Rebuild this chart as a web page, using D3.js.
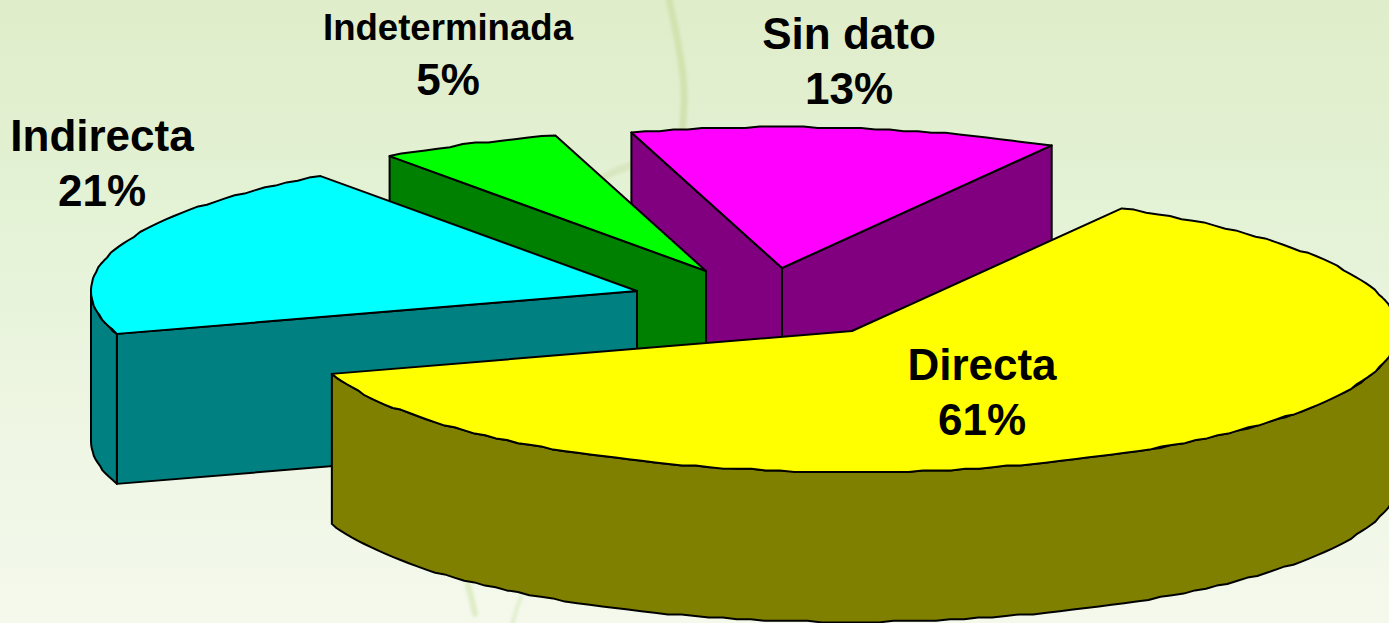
<!DOCTYPE html>
<html><head><meta charset="utf-8">
<style>html,body{margin:0;padding:0;overflow:hidden;background:#eef5e2}svg{display:block}</style>
<script src="https://cdn.jsdelivr.net/npm/d3@7/dist/d3.min.js"></script></head>
<body><svg id="c" width="1389" height="623"></svg>
<script>
// Data
const categories = ["Directa","Indirecta","Indeterminada","Sin dato"];
// Percentages as printed on the chart's labels
const printedPercents = [61,21,5,13];
// Slice sizes as measured from the drawn wedge angles in the picture (the source's
// 3D wedges do not sit exactly on the printed percentages)
const wedgeShares = [61.86,20.08,5.39,12.67];
const topColors = ["#ffff00","#00ffff","#00ff00","#ff00ff"];
const wallColors = ["#808000","#008080","#008000","#800080"];

// Layout (exploded slice hubs, and label anchors), separate from the data
const hubs = {Directa:[852,331],Indirecta:[637,291],Indeterminada:[706,271],"Sin dato":[782,268]};
const depth = 150, rx = 546, ry = 141;
const labels = {Directa:[982,380,44],Indirecta:[102,151,44],Indeterminada:[448,40,36.6],"Sin dato":[849,49,44]};
const drawOrder = ["Sin dato","Indeterminada","Indirecta","Directa"];

const W=1389,H=623, svg=d3.select("#c"), defs=svg.append("defs");
const g=defs.append("linearGradient").attr("id","bg").attr("x1",0).attr("y1",0).attr("x2",0).attr("y2",1);
[[0,"#dfedca"],[.35,"#e4f2d6"],[.7,"#eff6e4"],[1,"#f4f9ec"]].forEach(d=>g.append("stop").attr("offset",d[0]).attr("stop-color",d[1]));
defs.append("filter").attr("id","soft").append("feGaussianBlur").attr("stdDeviation",1.8);
svg.append("rect").attr("width",W).attr("height",H).attr("fill","url(#bg)");

// faint decorative stems of the slide background
const deco=svg.append("g").attr("fill","none").attr("stroke","#d2e3b0").attr("filter","url(#soft)").attr("stroke-linecap","round");
const stem=d3.line().curve(d3.curveBasis);
deco.append("path").attr("stroke-width",7).attr("d",stem([[668,-5],[678,40],[686,90],[682,135]]));
deco.append("path").attr("stroke-width",7).attr("stroke","#d9e6c0").attr("d",stem([[596,182],[612,172],[634,164]]));
deco.append("path").attr("stroke-width",6).attr("stroke","#dfecc6").attr("d",stem([[468,585],[472,600],[475,614]]));
deco.append("path").attr("stroke-width",4).attr("stroke","#e3eecf").attr("d",stem([[521,597],[516,610],[512,625]]));

// Pie angles through d3.pie (clockwise from the top of the ellipse)
const startDeg = 29.6;
const arcs = d3.pie().sort(null).value(d=>d)
  .startAngle(startDeg*Math.PI/180).endAngle((startDeg+360)*Math.PI/180)(wedgeShares);

// The source outline has a slight pixel-stepped wobble: snap rim points to a small grid
const snap=v=>Math.round(v/1.6)*1.6;
function ptsOnArc(c,a0,a1,dz){
  const xs=d3.scaleLinear().domain([-1,1]).range([c[0]-rx,c[0]+rx]);
  const ys=d3.scaleLinear().domain([-1,1]).range([c[1]-ry+dz,c[1]+ry+dz]);
  const n=Math.max(1,Math.round((a1-a0)/(1.5*Math.PI/180)));
  return d3.range(n+1).map(i=>{
    const t=a0+(a1-a0)*i/n, edge=i===0||i===n;
    const x=xs(Math.sin(t)), y=ys(-Math.cos(t));
    return [x, edge?y:snap(y)];
  });
}
const line=d3.line();
const chart=svg.append("g").attr("stroke","#000").attr("stroke-width",2).attr("stroke-linejoin","round");
const byName=Object.fromEntries(categories.map((n,i)=>[n,i]));

drawOrder.forEach(name=>{
  const i=byName[name], a=arcs[i], c=hubs[name], G=chart.append("g");
  const P=t=>[c[0]+rx*Math.sin(t),c[1]-ry*Math.cos(t)];
  const down=p=>[p[0],p[1]+depth];
  // radial cut faces facing the viewer
  const face=t=>{const p=P(t);G.append("path").attr("fill",wallColors[i])
      .attr("d",line([c,p,down(p),down(c)])+"Z");};
  if(Math.sin(a.startAngle)<0) face(a.startAngle);
  if(Math.sin(a.endAngle)>0) face(a.endAngle);
  // curved outer wall for the part of the rim facing the viewer
  const lo=Math.max(a.startAngle,Math.PI/2), hi=Math.min(a.endAngle,3*Math.PI/2);
  if(hi>lo){
    const top=ptsOnArc(c,lo,hi,0), bot=ptsOnArc(c,lo,hi,depth).reverse();
    G.append("path").attr("fill",wallColors[i]).attr("d",line(top.concat(bot))+"Z");
  }
  // top surface
  G.append("path").attr("fill",topColors[i])
   .attr("d",line([c].concat(ptsOnArc(c,a.startAngle,a.endAngle,0)))+"Z");
});

// Labels
const tl=svg.append("g").attr("font-family","'Liberation Sans',Arial,sans-serif").attr("font-weight","700").attr("fill","#000").attr("text-anchor","middle");
categories.forEach((n,i)=>{
  const [x,y,fs]=labels[n];
  tl.append("text").attr("x",x).attr("y",y).attr("font-size",fs).text(n);
  tl.append("text").attr("x",x).attr("y",y+54.5).attr("font-size",44).text(printedPercents[i]+"%");
});
</script></body></html>
